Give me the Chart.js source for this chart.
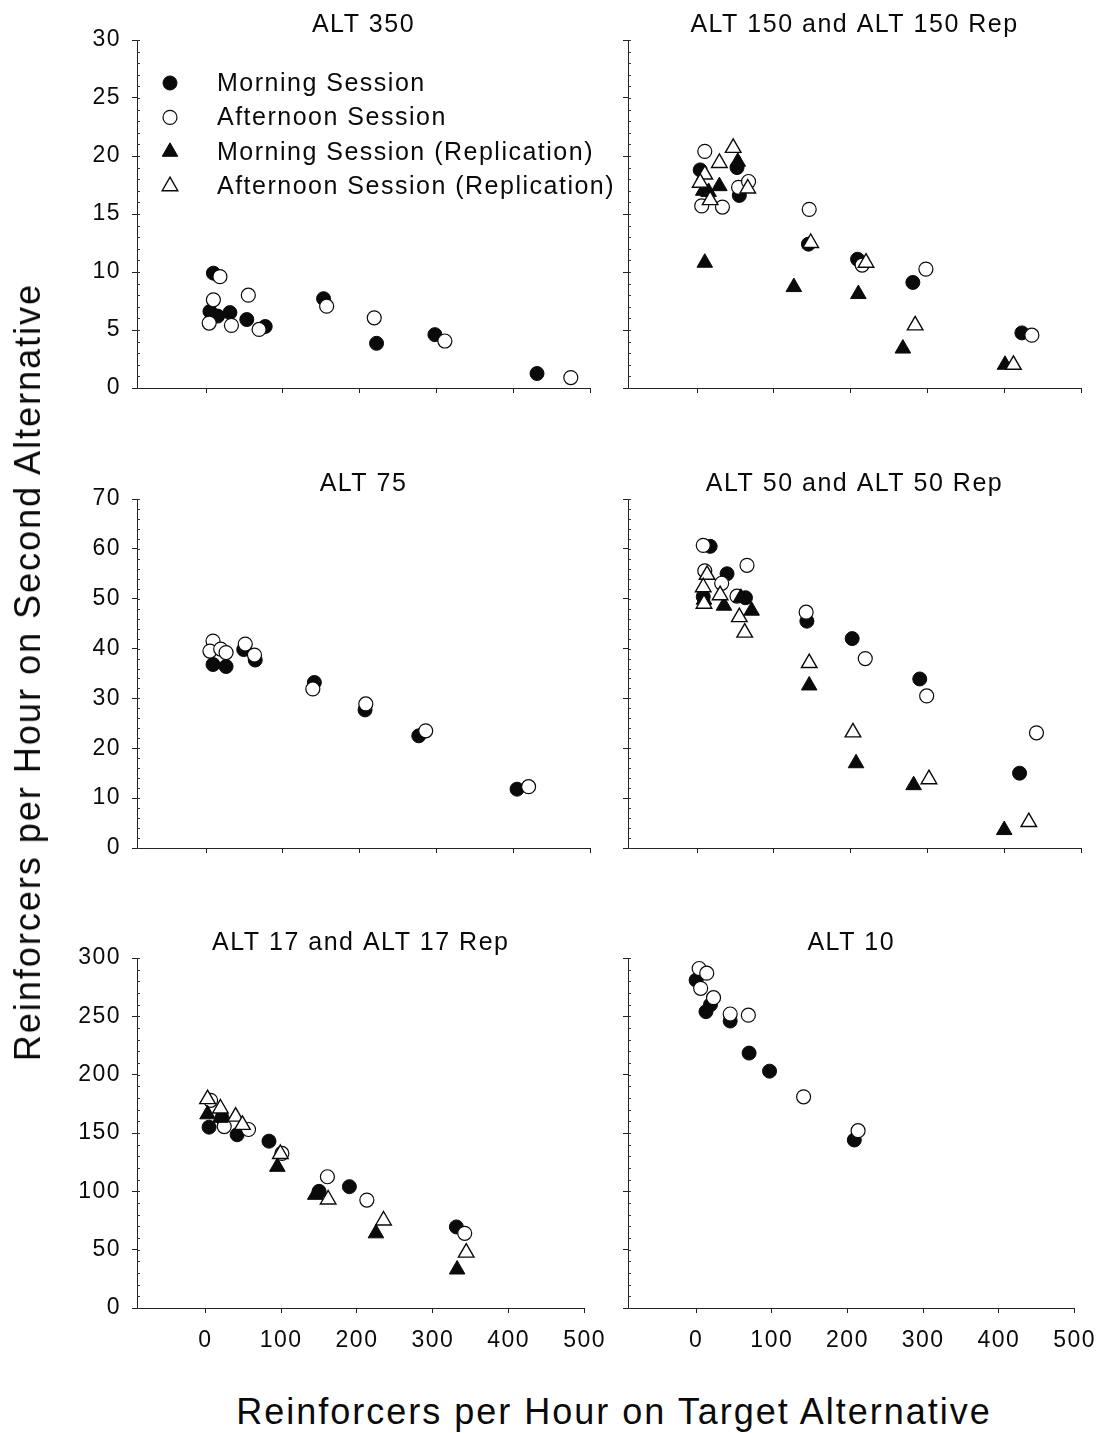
<!DOCTYPE html>
<html>
<head>
<meta charset="utf-8">
<script src="https://cdn.jsdelivr.net/npm/chart.js"></script>
<style>
  body { margin: 0; background: #fff; }
  #page { position: relative; width: 1110px; height: 1433px; font-family: "Liberation Sans", Arial, sans-serif; color: #0a0a0a; }
  canvas { position: absolute; }
  .axis-title { position: absolute; white-space: nowrap; font-size: 36px; letter-spacing: 2px; }
</style>
</head>
<body>
<div id="page">
  <canvas id="alt350" width="620" height="418" style="left:0;top:0"></canvas>
  <canvas id="alt150" width="510" height="418" style="left:600px;top:0"></canvas>
  <canvas id="alt75" width="620" height="419" style="left:0;top:459px"></canvas>
  <canvas id="alt50" width="510" height="419" style="left:600px;top:459px"></canvas>
  <canvas id="alt17" width="620" height="452" style="left:0;top:918px"></canvas>
  <canvas id="alt10" width="510" height="452" style="left:600px;top:918px"></canvas>
  <div class="axis-title" style="left:28px;top:672px;transform:translate(-50%,-50%) rotate(-90deg)">Reinforcers per Hour on Second Alternative</div>
  <div class="axis-title" style="left:614px;top:1412px;transform:translate(-50%,-50%)">Reinforcers per Hour on Target Alternative</div>
</div>
<script>
// [reinforcers/hr on target, reinforcers/hr on second alternative]
const xTicks = [0, 100, 200, 300, 400, 500]
const yTicksTop = [0, 5, 10, 15, 20, 25, 30]
const yTicksMid = [0, 10, 20, 30, 40, 50, 60, 70]
const yTicksBottom = [0, 50, 100, 150, 200, 250, 300]

const alt350Morning = [[9.5, 9.9], [5, 6.6], [15, 6.2], [31, 6.5], [53, 5.9], [77, 5.3], [153, 7.7], [222, 3.85], [298, 4.6], [431, 1.25]]
const alt350Afternoon = [[18, 9.6], [9.5, 7.6], [4, 5.6], [33, 5.4], [55, 8.0], [69, 5.05], [157, 7.05], [219, 6.05], [311, 4.05], [475, 0.9]]

const alt150Morning = [[4, 18.8], [52, 19.0], [55, 16.6], [145, 12.4], [209, 11.1], [281, 9.1], [423, 4.75]]
const alt150Afternoon = [[10, 20.4], [6, 15.7], [33, 15.6], [54, 17.3], [67, 17.8], [146, 15.4], [215, 10.6], [298, 10.25], [436, 4.55]]
const alt150MorningRep = [[8, 17.0], [15, 16.9], [29, 17.4], [53, 19.5], [10, 10.8], [126, 8.7], [210, 8.1], [268, 3.4], [401, 2.0]]
const alt150AfternoonRep = [[47, 20.7], [29, 19.4], [10, 18.4], [4, 17.7], [17, 16.2], [66, 17.2], [148, 12.5], [220, 10.8], [284, 5.4], [412, 2.0]]

const alt75Morning = [[9, 36.8], [26, 36.4], [49, 39.8], [64, 37.7], [141, 33.2], [207, 27.7], [277, 22.5], [405, 11.8]]
const alt75Afternoon = [[9, 41.5], [5, 39.5], [19, 39.9], [26, 39.2], [51, 40.9], [63, 38.7], [139, 31.9], [208, 28.9], [286, 23.5], [420, 12.3]]

const alt50Morning = [[17, 60.5], [39, 55], [8, 50.4], [63, 50.2], [143, 45.5], [202, 42.0], [290, 33.9], [420, 15.0]]
const alt50Afternoon = [[8, 60.7], [10, 55.6], [32, 53.1], [52, 50.5], [65, 56.7], [142, 47.3], [219, 38.0], [299, 30.5], [442, 23.1]]
const alt50MorningRep = [[9, 49.8], [35, 48.6], [57, 50.2], [71, 47.6], [146, 32.6], [207, 17.0], [282, 12.6], [400, 3.6]]
const alt50AfternoonRep = [[13, 54.8], [8, 52.3], [9, 49.0], [30, 50.7], [55, 46.3], [62, 43.2], [146, 37.1], [203, 23.2], [302, 13.8], [432, 5.2]]

const alt17Morning = [[5, 155], [42, 148.5], [22, 163], [84, 143], [150, 100], [190, 104], [331, 69.5]]
const alt17Afternoon = [[7, 178], [25, 155.5], [57, 153], [101, 132.5], [161, 112.5], [213, 92.5], [342, 64]]
const alt17MorningRep = [[3, 166], [20, 163], [95, 121], [145, 97], [225, 64], [332, 33]]
const alt17AfternoonRep = [[3, 179], [20, 171], [40, 164], [49, 157], [99, 132], [162, 93], [235, 75], [344, 47.5]]

const alt10Morning = [[0, 281], [13, 254], [19, 260], [45, 246], [70, 218.5], [97, 203], [209, 144]]
const alt10Afternoon = [[4, 291], [14, 287], [6, 274], [23, 266], [45, 252], [69, 251], [142, 181], [214, 152]]

const seriesLabels = ['Morning Session', 'Afternoon Session', 'Morning Session (Replication)', 'Afternoon Session (Replication)']

const FONT = '"Liberation Sans", Arial, sans-serif'
const INK = '#0a0a0a'

const toXY = pairs => pairs.map(([x, y]) => ({ x, y }))

// filled circle, open circle, filled triangle, open triangle
const makeDatasets = (morning, afternoon, morningRep, afternoonRep) => [
  { label: seriesLabels[0], data: toXY(morning), pointStyle: 'circle', pointRadius: 7, backgroundColor: INK, borderColor: INK, borderWidth: 1, order: 3 },
  { label: seriesLabels[1], data: toXY(afternoon), pointStyle: 'circle', pointRadius: 7, backgroundColor: '#fff', borderColor: INK, borderWidth: 1.2, order: 2 },
  { label: seriesLabels[2], data: toXY(morningRep), pointStyle: 'triangle', pointRadius: 9, backgroundColor: INK, borderColor: INK, borderWidth: 1, order: 1 },
  { label: seriesLabels[3], data: toXY(afternoonRep), pointStyle: 'triangle', pointRadius: 9, backgroundColor: '#fff', borderColor: INK, borderWidth: 1.4, order: 0 }
]

// text in the figure is set slightly loose
const spacing = {
  id: 'spacing',
  beforeUpdate(chart) { chart.ctx.letterSpacing = '1.5px' },
  beforeDraw(chart) { chart.ctx.letterSpacing = '1.5px' }
}

// small inward ticks between the labelled ones on the y axis
const minorTicks = {
  id: 'minorTicks',
  afterDraw(chart, args, opts) {
    const y = chart.scales.y
    const left = chart.chartArea.left
    const ctx = chart.ctx
    ctx.save()
    ctx.strokeStyle = '#333'
    ctx.lineWidth = 1
    ctx.beginPath()
    for (let v = y.min; v <= y.max; v += opts.step) {
      const py = Math.round(y.getPixelForValue(v)) + 0.5
      ctx.moveTo(left, py)
      ctx.lineTo(left + 3, py)
    }
    ctx.stroke()
    ctx.restore()
  }
}

// legend placed inside the plot, marker column then label column
const insideLegend = {
  id: 'insideLegend',
  afterDatasetsDraw(chart, args, opts) {
    if (!opts.display) return
    const ctx = chart.ctx
    const { left, top } = chart.chartArea
    ctx.save()
    ctx.font = `25px ${FONT}`
    ctx.textBaseline = 'middle'
    chart.data.datasets.forEach((ds, i) => {
      const y = top + opts.firstRow + i * opts.rowGap
      ctx.fillStyle = ds.backgroundColor
      ctx.strokeStyle = ds.borderColor
      ctx.lineWidth = ds.borderWidth
      Chart.helpers.drawPoint(ctx, { pointStyle: ds.pointStyle, radius: ds.pointRadius, borderWidth: ds.borderWidth, rotation: 0 }, left + opts.markerX, y)
      ctx.fillStyle = INK
      ctx.fillText(ds.label, left + opts.textX, y + 1)
    })
    ctx.restore()
  }
}

const makePanel = (id, title, datasets, cfg) => {
  const tickFont = { family: FONT, size: 23 }
  new Chart(document.getElementById(id), {
    type: 'scatter',
    data: { datasets },
    plugins: [spacing, minorTicks, insideLegend],
    options: {
      responsive: false,
      animation: false,
      events: [],
      layout: { padding: { left: 0, right: cfg.padRight, top: 0, bottom: 0 } },
      plugins: {
        legend: { display: false },
        tooltip: { enabled: false },
        title: {
          display: true,
          text: title,
          fullSize: false,
          color: INK,
          font: { family: FONT, size: 25, weight: 'normal', lineHeight: 1.2 },
          padding: { top: 10, bottom: 0 }
        },
        minorTicks: { step: cfg.minorStep },
        insideLegend: { display: !!cfg.legend, firstRow: 43, rowGap: 34.4, markerX: 33, textX: 80 }
      },
      scales: {
        x: {
          type: 'linear',
          min: -90,
          max: 500,
          afterBuildTicks: s => { s.ticks = xTicks.map(v => ({ value: v })) },
          afterFit: s => { s.height = cfg.xHeight },
          grid: { drawOnChartArea: false, drawTicks: true, tickLength: 5, color: '#222' },
          border: { color: '#222', width: 1 },
          ticks: { display: cfg.showX, color: INK, font: tickFont, padding: 14, maxRotation: 0, autoSkip: false }
        },
        y: {
          type: 'linear',
          min: cfg.yTicks[0],
          max: cfg.yTicks[cfg.yTicks.length - 1],
          afterBuildTicks: s => { s.ticks = cfg.yTicks.map(v => ({ value: v })) },
          afterFit: s => { s.width = cfg.yWidth },
          grid: { drawOnChartArea: false, drawTicks: true, tickLength: 5, color: '#222' },
          border: { color: '#222', width: 1 },
          ticks: { display: cfg.showY, color: INK, font: tickFont, padding: 11, autoSkip: false }
        }
      }
    }
  })
}

const leftCol = { padRight: 30, yWidth: 137, showY: true }
const rightCol = { padRight: 29, yWidth: 28, showY: false }

makePanel('alt350', 'ALT 350', makeDatasets(alt350Morning, alt350Afternoon, [], []),
  { ...leftCol, yTicks: yTicksTop, minorStep: 1, xHeight: 30, showX: false, legend: true })
makePanel('alt150', 'ALT 150 and ALT 150 Rep', makeDatasets(alt150Morning, alt150Afternoon, alt150MorningRep, alt150AfternoonRep),
  { ...rightCol, yTicks: yTicksTop, minorStep: 1, xHeight: 30, showX: false })
makePanel('alt75', 'ALT 75', makeDatasets(alt75Morning, alt75Afternoon, [], []),
  { ...leftCol, yTicks: yTicksMid, minorStep: 2, xHeight: 30, showX: false })
makePanel('alt50', 'ALT 50 and ALT 50 Rep', makeDatasets(alt50Morning, alt50Afternoon, alt50MorningRep, alt50AfternoonRep),
  { ...rightCol, yTicks: yTicksMid, minorStep: 2, xHeight: 30, showX: false })
makePanel('alt17', 'ALT 17 and ALT 17 Rep', makeDatasets(alt17Morning, alt17Afternoon, alt17MorningRep, alt17AfternoonRep),
  { ...leftCol, yTicks: yTicksBottom, minorStep: 10, xHeight: 62, showX: true })
makePanel('alt10', 'ALT 10', makeDatasets(alt10Morning, alt10Afternoon, [], []),
  { ...rightCol, yTicks: yTicksBottom, minorStep: 10, xHeight: 62, showX: true })
</script>
</body>
</html>
